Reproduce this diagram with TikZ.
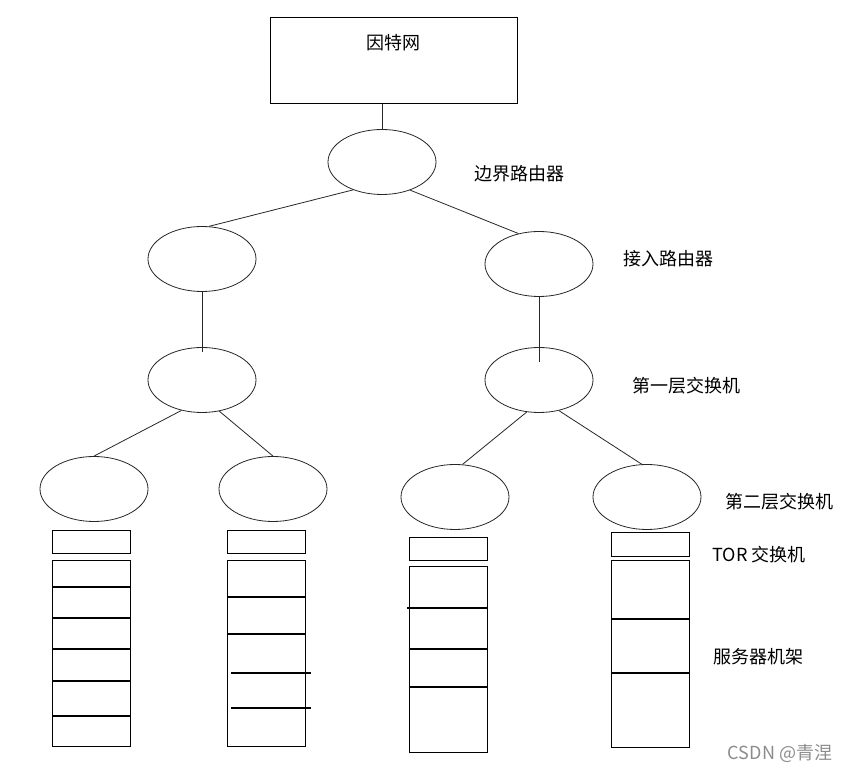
\documentclass[tikz,border=0pt]{standalone}
\usepackage{fontspec}
\setmainfont{Noto Sans CJK SC}
\usetikzlibrary{shapes.geometric,positioning}

\begin{document}
\begin{tikzpicture}[
        x=0.75pt, y=-0.75pt,
        every node/.style={font=\fontsize{13.5pt}{16pt}\selectfont},
        switchnode/.style={draw=black!85, line width=0.6pt, ellipse, minimum width=81pt, minimum height=48.75pt, inner sep=0pt},
        box/.style={draw, line width=0.9pt, rectangle, inner sep=0pt, anchor=north west, minimum width=58.5pt},
        link/.style={draw=black!85, line width=0.6pt},
        layername/.style={inner sep=0pt}
    ]
    \useasboundingbox (0,0) rectangle (851,773);

    % Nodes
    \node[box, line width=0.75pt, anchor=center, minimum width=185.25pt, minimum height=64.5pt] (inet) at (393.5,61) {};
    \node[layername] (inettext) at (393,43) {因特网};

    \node[switchnode] (border) at (382,162) {};
    \node[switchnode] (accL) at (202,259) {};
    \node[switchnode] (accR) at (539,264) {};
    \node[switchnode] (aggL) at (202,380) {};
    \node[switchnode] (aggR) at (539,380) {};
    \node[switchnode] (edgeA) at (94,489) {};
    \node[switchnode] (edgeB) at (273,489) {};
    \node[switchnode] (edgeC) at (455,497) {};
    \node[switchnode] (edgeD) at (647,497) {};

    % TOR switches
    \node[box, minimum height=17.25pt] (torA) at (52,530) {};
    \node[box, minimum height=17.25pt] (torB) at (227,530) {};
    \node[box, minimum height=17.25pt] (torC) at (409,537) {};
    \node[box, minimum height=18pt] (torD) at (611,532) {};

    % Racks
    \node[box, minimum height=139.5pt] (rackA) at (52,560) {};
    \node[box, minimum height=139.5pt] (rackB) at (227,560) {};
    \node[box, minimum height=139.5pt] (rackC) at (409,566) {};
    \node[box, minimum height=140pt] (rackD) at (611,560) {};

    \foreach \y in {587,618,649,681,716}
        \draw[line width=0.9pt] (rackA.west |- 0,\y) -- (rackA.east |- 0,\y);
    \foreach \y in {597,634}
        \draw[line width=0.9pt] (rackB.west |- 0,\y) -- (rackB.east |- 0,\y);
    \foreach \y in {673,708}
        \draw[line width=0.9pt] ([xshift=3pt]rackB.west |- 0,\y) -- ([xshift=3.5pt]rackB.east |- 0,\y);
    \draw[line width=0.9pt] ([xshift=-1.5pt]rackC.west |- 0,608) -- (rackC.east |- 0,608);
    \foreach \y in {649,687}
        \draw[line width=0.9pt] (rackC.west |- 0,\y) -- (rackC.east |- 0,\y);
    \foreach \y in {619,673}
        \draw[line width=0.9pt] (rackD.west |- 0,\y) -- (rackD.east |- 0,\y);

    % Layer names
    \node[layername] (nborder) at (519,174) {边界路由器};
    \node[layername] (naccess) at (668,259) {接入路由器};
    \node[layername] (nagg) at (686,386) {第一层交换机};
    \node[layername] (nedge) at (779,502) {第二层交换机};
    \node[layername] (ntor) at (759,555) {TOR 交换机};
    \node[layername] (nrack) at (758,657) {服务器机架};
    \node[layername, text=black!45, font=\fontsize{13.5pt}{16pt}\selectfont] (mark) at (780,753) {CSDN @青涅};

    % Edges
    \draw[link] (border.north) -- (border.north |- inet.south);
    \draw[link] (border.224) -- (accL.78);
    \draw[link] (border.315) -- (accR.124);
    \draw[link] (accL.south) -- ([yshift=-3.5pt]aggL.north);
    \draw[link] (accR.south) -- ([yshift=-11pt]aggR.north);
    \draw[link] (aggL.236) -- (edgeA.north);
    \draw[link] (aggL.299) -- (edgeB.north);
    \draw[link] (aggR.249) -- (edgeC.77);
    \draw[link] (aggR.303) -- (edgeD.99);

\end{tikzpicture}
\end{document}
